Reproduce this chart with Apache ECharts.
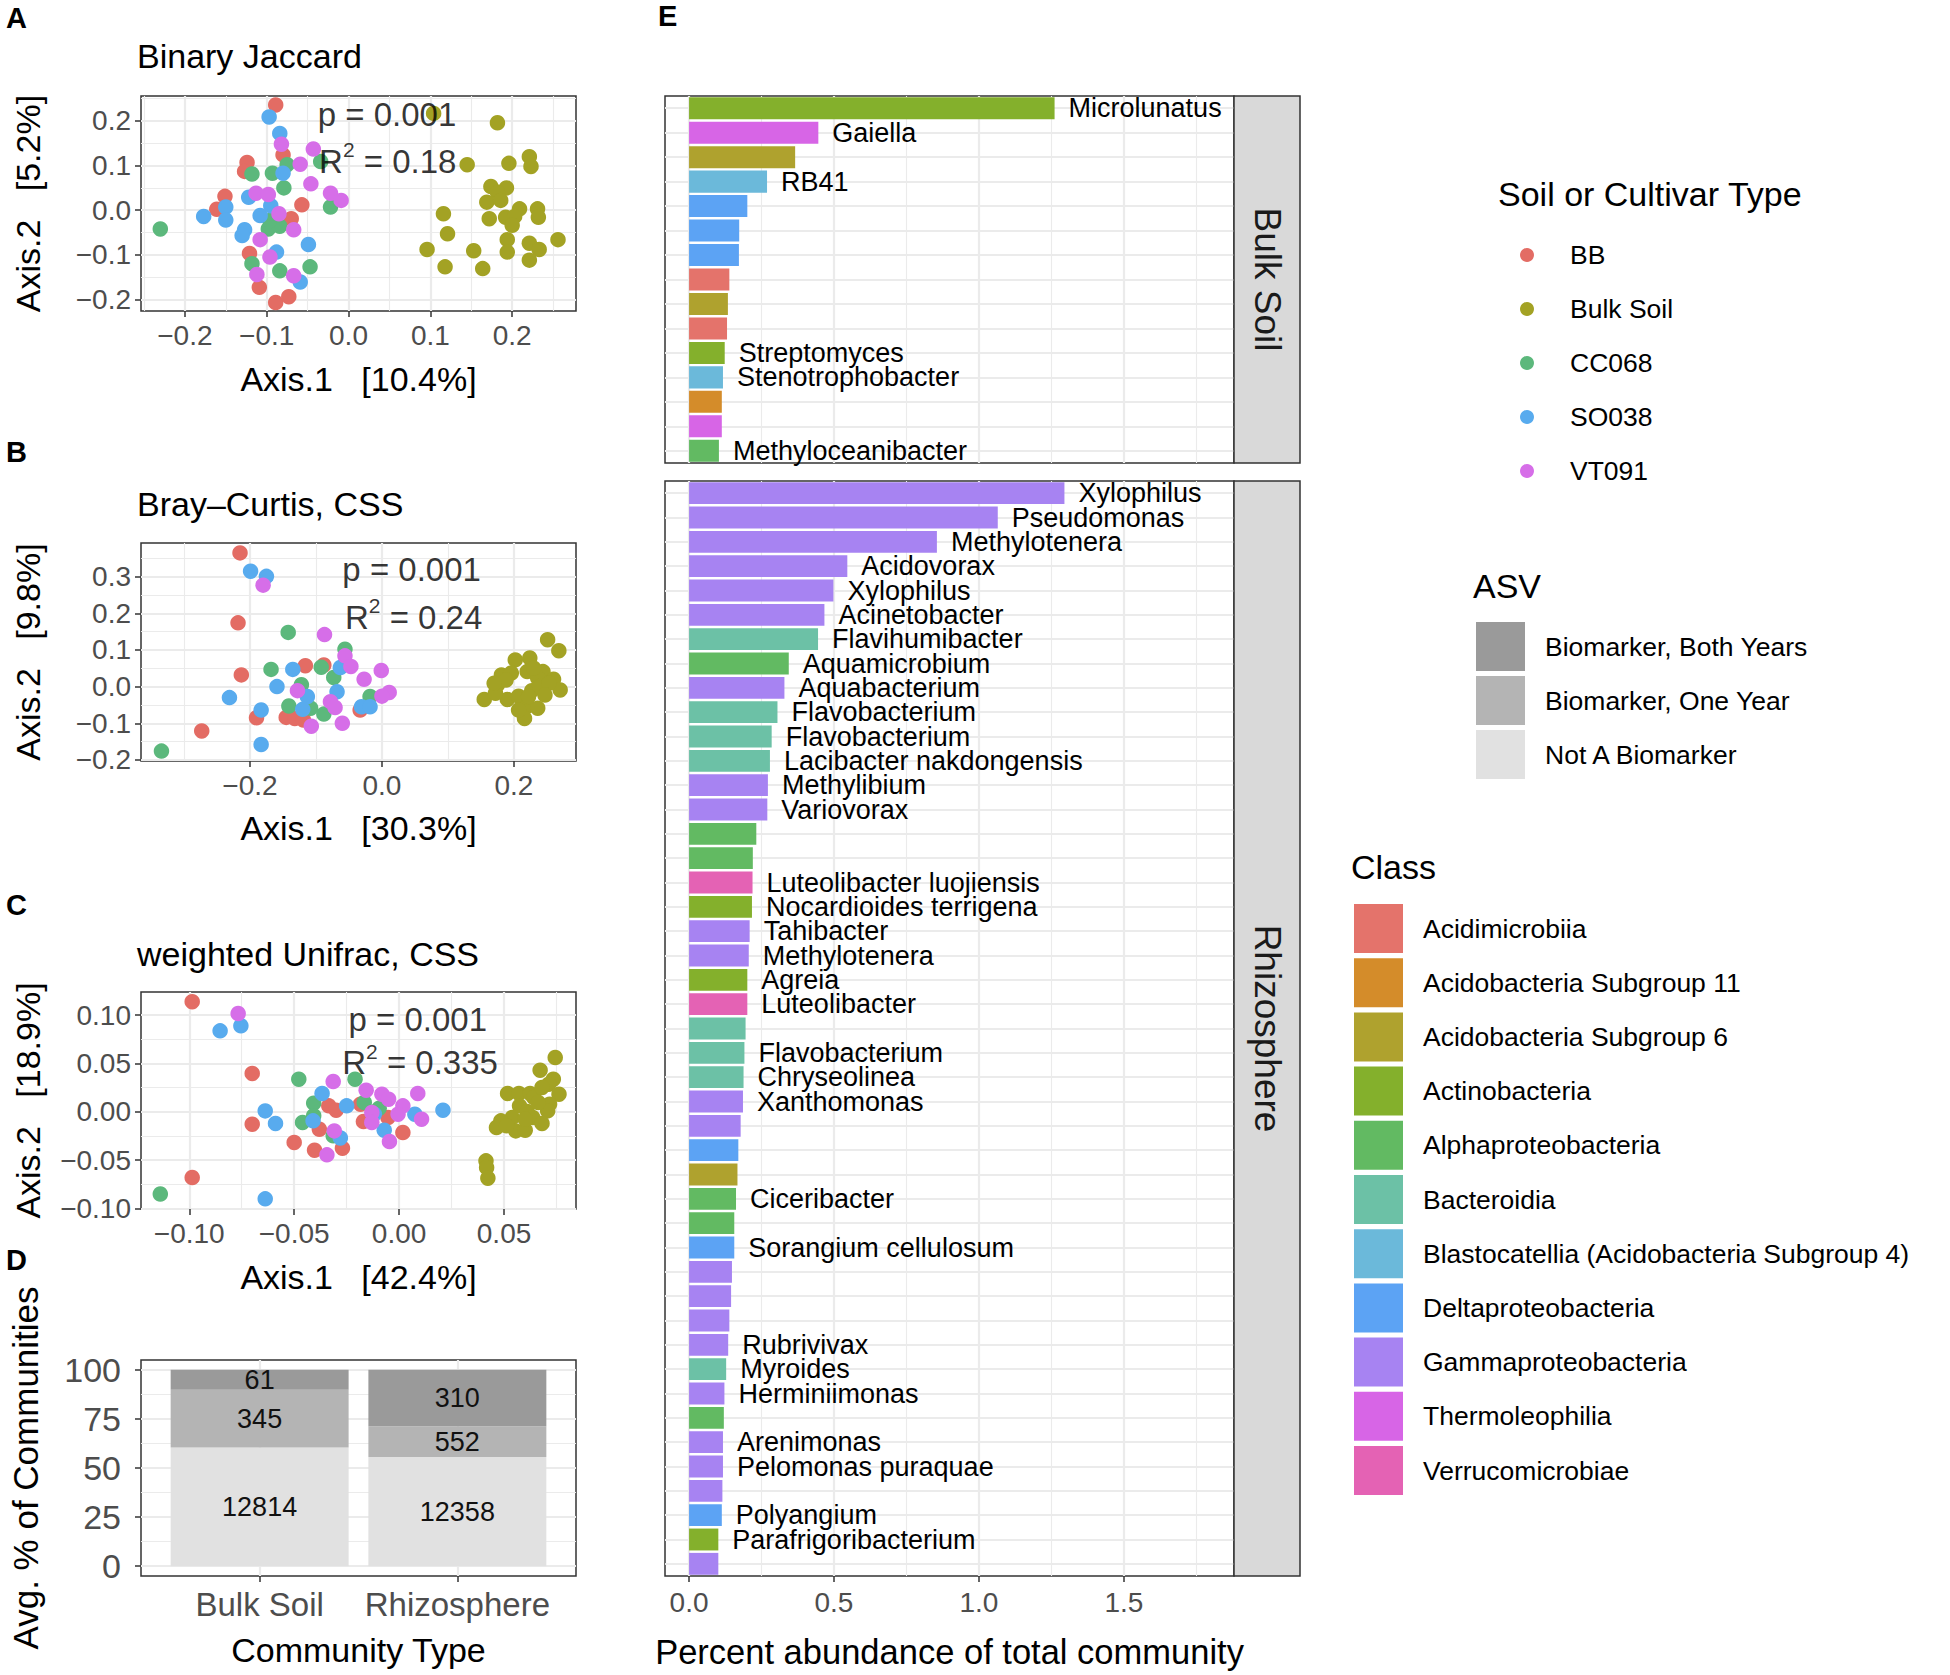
<!DOCTYPE html>
<html><head><meta charset="utf-8">
<script src="https://cdn.jsdelivr.net/npm/echarts@6/dist/echarts.min.js"></script>
<style>html,body{margin:0;padding:0;background:#fff}#main{width:1950px;height:1675px}</style>
</head><body><div id="main"></div>
<script>
// ================= DATA =================
const groupNames = ['BB', 'Bulk Soil', 'CC068', 'SO038', 'VT091'];

// Panel A: Binary Jaccard
const jaccardBB = [[-0.089,0.236],[-0.124,0.107],[-0.127,0.087],[-0.080,0.124],[-0.151,0.031],[-0.161,0.002],[-0.057,0.012],[-0.070,-0.019],[-0.121,-0.097],[-0.109,-0.173],[-0.089,-0.207],[-0.073,-0.194]];
const jaccardBulk = [[0.104,0.217],[0.182,0.196],[0.145,0.102],[0.196,0.105],[0.221,0.120],[0.223,0.098],[0.174,0.053],[0.193,0.050],[0.182,0.040],[0.169,0.018],[0.186,0.022],[0.209,0.003],[0.231,0.003],[0.116,-0.008],[0.172,-0.019],[0.192,-0.016],[0.203,-0.014],[0.200,-0.034],[0.232,-0.016],[0.121,-0.053],[0.256,-0.066],[0.194,-0.066],[0.221,-0.074],[0.233,-0.088],[0.096,-0.088],[0.153,-0.091],[0.194,-0.094],[0.221,-0.112],[0.118,-0.127],[0.164,-0.131]];
const jaccardCC068 = [[-0.230,-0.042],[-0.118,0.081],[-0.093,0.083],[-0.075,0.102],[-0.079,0.050],[-0.034,0.109],[-0.022,0.007],[-0.098,-0.042],[-0.084,-0.036],[-0.118,-0.120],[-0.084,-0.136],[-0.047,-0.127],[-0.096,-0.023]];
const jaccardSO038 = [[-0.097,0.209],[-0.084,0.172],[-0.080,0.083],[-0.122,0.029],[-0.150,0.007],[-0.177,-0.014],[-0.150,-0.022],[-0.108,-0.012],[-0.095,0.010],[-0.127,-0.044],[-0.130,-0.057],[-0.088,-0.094],[-0.049,-0.077],[-0.059,-0.161]];
const jaccardVT091 = [[-0.082,0.148],[-0.043,0.137],[-0.059,0.103],[-0.046,0.059],[-0.022,0.038],[-0.009,0.022],[-0.113,0.038],[-0.098,0.035],[-0.085,-0.008],[-0.067,-0.044],[-0.108,-0.066],[-0.096,-0.105],[-0.112,-0.144],[-0.067,-0.147]];
const jaccardXRange = [-0.2536, 0.278];
const jaccardYRange = [-0.226, 0.256];
const jaccardXTicks = [-0.2, -0.1, 0, 0.1, 0.2];
const jaccardYTicks = [-0.2, -0.1, 0, 0.1, 0.2];
const jaccardStats = ['p = 0.001', 'R{s|2} = 0.18'];
const jaccardStatPos = [[0.047, 0.215], [0.048, 0.11]];

// Panel B: Bray-Curtis, CSS
const brayBB = [[-0.215,0.365],[-0.218,0.174],[-0.213,0.032],[-0.273,-0.121],[-0.190,-0.085],[-0.145,-0.084],[-0.132,-0.087],[-0.116,0.057],[-0.088,0.059],[-0.119,-0.091],[-0.033,-0.064]];
const brayBulk = [[0.251,0.128],[0.268,0.098],[0.224,0.078],[0.202,0.073],[0.181,0.032],[0.175,0.005],[0.220,0.041],[0.244,0.041],[0.236,0.023],[0.260,0.020],[0.270,-0.009],[0.155,-0.035],[0.190,-0.035],[0.207,-0.026],[0.227,-0.011],[0.239,0.000],[0.219,-0.055],[0.236,-0.059],[0.216,-0.087],[0.172,-0.018],[0.196,0.037],[0.230,0.050],[0.222,-0.027],[0.253,0.009],[0.207,-0.064],[0.188,0.018],[0.247,-0.023],[0.170,0.009]];
const brayCC068 = [[-0.334,-0.176],[-0.142,0.148],[-0.168,0.047],[-0.122,0.005],[-0.092,0.053],[-0.056,0.102],[-0.073,0.025],[-0.141,-0.053],[-0.108,-0.059],[-0.088,-0.075],[-0.018,-0.027]];
const braySO038 = [[-0.199,0.315],[-0.175,0.301],[-0.231,-0.030],[-0.159,0.000],[-0.135,0.047],[-0.183,-0.064],[-0.183,-0.158],[-0.113,-0.027],[-0.120,-0.062],[-0.068,-0.014],[-0.063,0.052],[-0.031,-0.055],[-0.018,-0.055]];
const brayVT091 = [[-0.180,0.277],[-0.087,0.142],[-0.056,0.084],[-0.047,0.055],[-0.001,0.044],[-0.027,0.020],[0.011,-0.016],[0.000,-0.026],[-0.128,-0.011],[-0.078,-0.041],[-0.071,-0.057],[-0.060,-0.100],[-0.107,-0.108]];
const brayXRange = [-0.365, 0.294];
const brayYRange = [-0.203, 0.392];
const brayXTicks = [-0.2, 0, 0.2];
const brayYTicks = [-0.2, -0.1, 0, 0.1, 0.2, 0.3];
const brayStats = ['p = 0.001', 'R{s|2} = 0.24'];
const brayStatPos = [[0.045, 0.32], [0.048, 0.19]];

// Panel C: weighted Unifrac, CSS
const unifracBB = [[-0.0986,0.114],[-0.070,0.0397],[-0.070,-0.0128],[-0.0986,-0.068],[-0.050,-0.0317],[-0.0403,-0.0397],[-0.038,-0.018],[-0.0335,0.0062],[-0.030,0.0017],[-0.027,-0.0376],[-0.0184,0.0079],[-0.017,-0.010],[-0.0053,-0.0059],[0.0018,-0.0214]];
const unifracBulk = [[0.0744,0.0562],[0.0672,0.0431],[0.0735,0.0338],[0.0713,0.0286],[0.0762,0.0183],[0.0517,0.019],[0.0571,0.019],[0.0624,0.019],[0.0642,0.0148],[0.0574,0.0062],[0.0717,0.0079],[0.0708,0.001],[0.061,0.0003],[0.0539,-0.0059],[0.0485,-0.0093],[0.0637,-0.0059],[0.0681,-0.012],[0.0556,-0.0197],[0.0601,-0.019],[0.0464,-0.0162],[0.0414,-0.0507],[0.0417,-0.0576],[0.0423,-0.0686],[0.0663,0.0097],[0.0601,-0.0076],[0.0512,-0.0145],[0.0681,0.0252]];
const unifracCC068 = [[-0.1138,-0.085],[-0.0478,0.0338],[-0.021,0.0338],[-0.0407,0.009],[-0.046,-0.011],[-0.0407,-0.004],[-0.0166,0.0097],[-0.0095,0.0038],[-0.0314,-0.0248]];
const unifracSO038 = [[-0.0853,0.0838],[-0.0754,0.089],[-0.0638,0.001],[-0.0589,-0.012],[-0.0638,-0.090],[-0.0367,0.019],[-0.041,-0.0093],[-0.025,0.0062],[-0.028,-0.027],[-0.0071,-0.019],[0.0075,-0.0024],[0.0209,0.0017],[-0.0118,-0.0024]];
const unifracVT091 = [[-0.0767,0.1017],[-0.0314,0.0314],[-0.0157,0.0224],[-0.0082,0.0183],[-0.005,0.0131],[0.0089,0.019],[0.0018,0.0062],[-0.0005,-0.0024],[0.0107,-0.0076],[-0.013,-0.0007],[-0.013,-0.011],[-0.0309,-0.0197],[-0.0046,-0.0307],[-0.0344,-0.0445]];
const unifracXRange = [-0.123, 0.0843];
const unifracYRange = [-0.1005, 0.124];
const unifracXTicks = [-0.1, -0.05, 0, 0.05];
const unifracYTicks = [-0.1, -0.05, 0, 0.05, 0.1];
const unifracStats = ['p = 0.001', 'R{s|2} = 0.335'];
const unifracStatPos = [[0.0089, 0.0959], [0.0100, 0.051]];

// Panel D: stacked percentage bars
const communityTypes = ['Bulk Soil', 'Rhizosphere'];
const asvNames = ['Biomarker, Both Years', 'Biomarker, One Year', 'Not A Biomarker'];
const notBiomarkerPct = [60.4, 55.6];
const oneYearPct = [29.5, 15.6];
const bothYearsPct = [10.1, 28.8];
const notBiomarkerCount = [12814, 12358];
const oneYearCount = [345, 552];
const bothYearsCount = [61, 310];
const percentRange = [-5, 105];
const percentTicks = [0, 25, 50, 75, 100];

// Panel E: percent abundance of biomarker ASVs
const classNames = ['Acidimicrobiia', 'Acidobacteria Subgroup 11', 'Acidobacteria Subgroup 6', 'Actinobacteria', 'Alphaproteobacteria', 'Bacteroidia', 'Blastocatellia (Acidobacteria Subgroup 4)', 'Deltaproteobacteria', 'Gammaproteobacteria', 'Thermoleophilia', 'Verrucomicrobiae'];

const bulkValues = [1.261, 0.446, 0.366, 0.269, 0.201, 0.173, 0.172, 0.139, 0.134, 0.131, 0.123, 0.117, 0.113, 0.113, 0.103];
const bulkClasses = ['Actinobacteria', 'Thermoleophilia', 'Acidobacteria Subgroup 6', 'Blastocatellia (Acidobacteria Subgroup 4)', 'Deltaproteobacteria', 'Deltaproteobacteria', 'Deltaproteobacteria', 'Acidimicrobiia', 'Acidobacteria Subgroup 6', 'Acidimicrobiia', 'Actinobacteria', 'Blastocatellia (Acidobacteria Subgroup 4)', 'Acidobacteria Subgroup 11', 'Thermoleophilia', 'Alphaproteobacteria'];
const bulkLabels = ['Microlunatus', 'Gaiella', '', 'RB41', '', '', '', '', '', '', 'Streptomyces', 'Stenotrophobacter', '', '', 'Methyloceanibacter'];

const rhizoValues = [1.295, 1.065, 0.855, 0.546, 0.498, 0.467, 0.445, 0.344, 0.329, 0.305, 0.285, 0.279, 0.272, 0.270, 0.232, 0.220, 0.219, 0.217, 0.209, 0.206, 0.201, 0.201, 0.195, 0.191, 0.188, 0.186, 0.178, 0.170, 0.167, 0.162, 0.156, 0.156, 0.148, 0.145, 0.139, 0.135, 0.128, 0.122, 0.120, 0.117, 0.117, 0.115, 0.113, 0.101, 0.101];
const rhizoClasses = ['Gammaproteobacteria', 'Gammaproteobacteria', 'Gammaproteobacteria', 'Gammaproteobacteria', 'Gammaproteobacteria', 'Gammaproteobacteria', 'Bacteroidia', 'Alphaproteobacteria', 'Gammaproteobacteria', 'Bacteroidia', 'Bacteroidia', 'Bacteroidia', 'Gammaproteobacteria', 'Gammaproteobacteria', 'Alphaproteobacteria', 'Alphaproteobacteria', 'Verrucomicrobiae', 'Actinobacteria', 'Gammaproteobacteria', 'Gammaproteobacteria', 'Actinobacteria', 'Verrucomicrobiae', 'Bacteroidia', 'Bacteroidia', 'Bacteroidia', 'Gammaproteobacteria', 'Gammaproteobacteria', 'Deltaproteobacteria', 'Acidobacteria Subgroup 6', 'Alphaproteobacteria', 'Alphaproteobacteria', 'Deltaproteobacteria', 'Gammaproteobacteria', 'Gammaproteobacteria', 'Gammaproteobacteria', 'Gammaproteobacteria', 'Bacteroidia', 'Gammaproteobacteria', 'Alphaproteobacteria', 'Gammaproteobacteria', 'Gammaproteobacteria', 'Gammaproteobacteria', 'Deltaproteobacteria', 'Actinobacteria', 'Gammaproteobacteria'];
const rhizoLabels = ['Xylophilus', 'Pseudomonas', 'Methylotenera', 'Acidovorax', 'Xylophilus', 'Acinetobacter', 'Flavihumibacter', 'Aquamicrobium', 'Aquabacterium', 'Flavobacterium', 'Flavobacterium', 'Lacibacter nakdongensis', 'Methylibium', 'Variovorax', '', '', 'Luteolibacter luojiensis', 'Nocardioides terrigena', 'Tahibacter', 'Methylotenera', 'Agreia', 'Luteolibacter', '', 'Flavobacterium', 'Chryseolinea', 'Xanthomonas', '', '', '', 'Ciceribacter', '', 'Sorangium cellulosum', '', '', '', 'Rubrivivax', 'Myroides', 'Herminiimonas', '', 'Arenimonas', 'Pelomonas puraquae', '', 'Polyangium', 'Parafrigoribacterium', ''];
const abundanceRange = [-0.083, 1.88];
const abundanceTicks = [0, 0.5, 1, 1.5];
const facetNames = ['Bulk Soil', 'Rhizosphere'];

// ================= STYLE =================
const FONT = 'Liberation Sans, Arial, Helvetica, sans-serif';
const groupColors = ['#E36C64', '#A3A224', '#5CB87C', '#58ABEE', '#D66EE8'];
const asvColors = ['#9a9a9a', '#b4b4b4', '#e1e1e1'];
const classColors = ['#E4736B', '#D48C2A', '#AFA22E', '#84B02C', '#62BA62', '#6CC1A6', '#6BB9DA', '#5CA3F4', '#A783F2', '#D765E6', '#E462B4'];
const GRID_MAJOR = {color: '#ebebeb', width: 2.2};
const GRID_MINOR = {color: '#ebebeb', width: 1.1};
const TICK = {color: '#333333', width: 1.5};

// layout (pixels)
const L = {
  leftX: 141, leftW: 435,
  A: {top: 96, h: 215}, B: {top: 543, h: 218}, C: {top: 992, h: 217}, D: {top: 1360, h: 216},
  E: {left: 665, w: 569, stripW: 66, top1: 96, h1: 367, top2: 481, h2: 1095}
};

const fmt = (v, d) => (v < -1e-9 ? '\u2212' : '') + Math.abs(v).toFixed(d);
function minorOf(ticks, range) {
  const step = ticks[1] - ticks[0];
  const out = [];
  for (let v = ticks[0] - step / 2; v <= range[1] + 1e-9; v += step) {
    if (v >= range[0] - 1e-9) out.push(+v.toFixed(6));
  }
  return out;
}

const grids = [], xAxes = [], yAxes = [], series = [], graphics = [];

function frameGrid(left, top, width, height, show) {
  grids.push({left, top, width, height, show: show !== false, borderColor: '#333333', borderWidth: 1.5, backgroundColor: show === false ? 'transparent' : '#ffffff'});
  return grids.length - 1;
}

function valueAxis(gridIndex, range, ticks, dec, opts) {
  const o = Object.assign({labels: true, ticksShown: true, name: '', nameGap: 50, fontSize: 28, margin: 10, position: 'bottom', labelFormatter: null, nameSize: 34}, opts || {});
  return {
    type: 'value', gridIndex, min: range[0], max: range[1], position: o.position,
    axisLine: {show: false, onZero: false},
    axisTick: {show: o.ticksShown, customValues: ticks, length: 6, lineStyle: TICK},
    axisLabel: {show: o.labels, customValues: ticks, color: '#4d4d4d', fontSize: o.fontSize, fontFamily: FONT, margin: o.margin,
      formatter: o.labelFormatter || (v => fmt(v, dec))},
    splitLine: {show: true, lineStyle: GRID_MAJOR},
    name: o.name, nameLocation: 'middle', nameGap: o.nameGap,
    nameTextStyle: {fontSize: o.nameSize, color: '#000', fontFamily: FONT}
  };
}
function minorAxis(gridIndex, range, minors, position) {
  return {
    type: 'value', gridIndex, min: range[0], max: range[1], position,
    axisLine: {show: false, onZero: false},
    axisTick: {show: false, customValues: minors},
    axisLabel: {show: false},
    splitLine: {show: true, lineStyle: GRID_MINOR}
  };
}

function scatterPanel(box, groups, xRange, yRange, xTicks, yTicks, dec, xName, yName, xNameGap, stats, statPos) {
  const gi = frameGrid(L.leftX, box.top, L.leftW, box.h);
  const xi = xAxes.length, yi = yAxes.length;
  xAxes.push(valueAxis(gi, xRange, xTicks, dec, {name: xName, nameGap: xNameGap}));
  xAxes.push(minorAxis(gi, xRange, minorOf(xTicks, xRange), 'top'));
  yAxes.push(valueAxis(gi, yRange, yTicks, dec, {name: yName, nameGap: 96, position: 'left'}));
  yAxes.push(minorAxis(gi, yRange, minorOf(yTicks, yRange), 'right'));
  groups.forEach((data, g) => {
    series.push({type: 'scatter', name: groupNames[g], xAxisIndex: xi, yAxisIndex: yi, data,
      symbol: 'circle', symbolSize: 15.5, itemStyle: {color: groupColors[g], opacity: 1}, z: 3,
      emphasis: {disabled: true}, silent: true});
  });
  series.push({type: 'scatter', name: 'stats', xAxisIndex: xi, yAxisIndex: yi, z: 5, silent: true,
    symbolSize: 1, itemStyle: {color: 'rgba(0,0,0,0)'},
    data: statPos.map((p, i) => ({value: p, label: {formatter: stats[i]}})),
    label: {show: true, position: 'inside', fontSize: 33, lineHeight: 44, color: '#000', fontFamily: FONT,
      rich: {s: {fontSize: 21, lineHeight: 22, verticalAlign: 'top', fontFamily: FONT, color: '#000'}}}});
}

scatterPanel(L.A, [jaccardBB, jaccardBulk, jaccardCC068, jaccardSO038, jaccardVT091], jaccardXRange, jaccardYRange, jaccardXTicks, jaccardYTicks, 1,
  'Axis.1   [10.4%]', 'Axis.2   [5.2%]', 51, jaccardStats, jaccardStatPos);
scatterPanel(L.B, [brayBB, brayBulk, brayCC068, braySO038, brayVT091], brayXRange, brayYRange, brayXTicks, brayYTicks, 1,
  'Axis.1   [30.3%]', 'Axis.2   [9.8%]', 50, brayStats, brayStatPos);
scatterPanel(L.C, [unifracBB, unifracBulk, unifracCC068, unifracSO038, unifracVT091], unifracXRange, unifracYRange, unifracXTicks, unifracYTicks, 2,
  'Axis.1   [42.4%]', 'Axis.2   [18.9%]', 51, unifracStats, unifracStatPos);

// ---- Panel D ----
(function () {
  const gi = frameGrid(L.leftX, L.D.top, L.leftW, L.D.h);
  const catRange = [0.4, communityTypes.length + 0.6];
  const catPos = communityTypes.map((_, i) => i + 1);
  xAxes.push(valueAxis(gi, catRange, catPos, 0, {name: 'Community Type', nameGap: 57, fontSize: 33, margin: 12,
    labelFormatter: v => communityTypes[Math.round(v) - 1]}));
  yAxes.push(valueAxis(gi, percentRange, percentTicks, 0, {name: 'Avg. % of Communities', nameGap: 98, fontSize: 34, margin: 20, position: 'left', nameSize: 35}));
  yAxes.push(minorAxis(gi, percentRange, minorOf(percentTicks, percentRange), 'right'));
  const pad = L.leftW * 0.1 / (communityTypes.length + 0.2);
  const gi2 = frameGrid(L.leftX + pad, L.D.top, L.leftW - 2 * pad, L.D.h, false);
  const xi2 = xAxes.length;
  xAxes.push({type: 'category', gridIndex: gi2, data: communityTypes, show: false});
  const yi2 = yAxes.length;
  yAxes.push({type: 'value', gridIndex: gi2, min: percentRange[0], max: percentRange[1], show: false, splitLine: {show: false}});
  const stackDefs = [
    [asvNames[2], notBiomarkerPct, notBiomarkerCount, asvColors[2]],
    [asvNames[1], oneYearPct, oneYearCount, asvColors[1]],
    [asvNames[0], bothYearsPct, bothYearsCount, asvColors[0]]
  ];
  stackDefs.forEach(([name, pct, cnt, color]) => {
    series.push({type: 'bar', name, stack: 'asv', xAxisIndex: xi2, yAxisIndex: yi2, data: pct, barWidth: '90%',
      itemStyle: {color}, silent: true,
      label: {show: true, position: 'inside', fontSize: 27, color: '#111', fontFamily: FONT, formatter: p => String(cnt[p.dataIndex])}});
  });
})();

// ---- Panel E ----
function abundanceFacet(top, h, values, classes, labels, bottom, facetName) {
  const gi = frameGrid(L.E.left, top, L.E.w, h);
  const xi = xAxes.length;
  xAxes.push(valueAxis(gi, abundanceRange, abundanceTicks, 1, bottom ?
    {name: 'Percent abundance of total community', nameGap: 58, fontSize: 28, margin: 12, nameSize: 34.5} :
    {labels: false, ticksShown: false}));
  xAxes.push(minorAxis(gi, abundanceRange, minorOf(abundanceTicks, abundanceRange), 'top'));
  const yi = yAxes.length;
  yAxes.push({type: 'category', gridIndex: gi, inverse: true, data: values.map((_, i) => String(i + 1)),
    axisLine: {show: false}, axisTick: {show: false}, axisLabel: {show: false},
    splitLine: {show: true, alignWithLabel: true, interval: 0, lineStyle: GRID_MAJOR}});
  classNames.forEach((c, ci) => {
    if (classes.indexOf(c) < 0) return;
    series.push({type: 'bar', name: c, xAxisIndex: xi, yAxisIndex: yi, silent: true,
      data: values.map((v, i) => classes[i] === c ? v : '-'),
      barGap: '-100%', barCategoryGap: '10%', itemStyle: {color: classColors[ci]},
      label: {show: true, position: 'right', distance: 14, fontSize: 27, lineHeight: 24, color: '#000', fontFamily: FONT,
        formatter: p => labels[p.dataIndex]}});
  });
  // facet strip
  graphics.push({type: 'rect', shape: {x: L.E.left + L.E.w, y: top, width: L.E.stripW, height: h},
    style: {fill: '#d9d9d9', stroke: '#333333', lineWidth: 1.5}, z: 10});
  graphics.push({type: 'text', x: L.E.left + L.E.w + L.E.stripW / 2, y: top + h / 2, rotation: -Math.PI / 2, z: 11,
    style: {text: facetName, fontSize: 37, fontFamily: FONT, fill: '#1a1a1a', align: 'center', verticalAlign: 'middle'}});
}
abundanceFacet(L.E.top1, L.E.h1, bulkValues, bulkClasses, bulkLabels, false, facetNames[0]);
abundanceFacet(L.E.top2, L.E.h2, rhizoValues, rhizoClasses, rhizoLabels, true, facetNames[1]);

// ---- titles, letters, legend titles ----
function txt(text, x, y, size, weight, align) {
  graphics.push({type: 'text', x, y, z: 12, style: {text, fontSize: size, fontWeight: weight || 'normal', fontFamily: FONT,
    fill: '#000', align: align || 'left', verticalAlign: 'middle'}});
}
txt('A', 6, 18, 29, 'bold'); txt('B', 6, 452, 29, 'bold'); txt('C', 6, 905, 29, 'bold'); txt('D', 6, 1260, 29, 'bold'); txt('E', 658, 16, 29, 'bold');
txt('Binary Jaccard', 137, 56, 34); txt('Bray\u2013Curtis, CSS', 137, 504, 34); txt('weighted Unifrac, CSS', 137, 954, 34);
txt('Soil or Cultivar Type', 1498, 194, 34); txt('ASV', 1473, 586, 34); txt('Class', 1351, 867, 34);

const chart = echarts.init(document.getElementById('main'), null, {renderer: 'svg'});
chart.setOption({
  animation: false,
  backgroundColor: '#ffffff',
  textStyle: {fontFamily: FONT},
  grid: grids, xAxis: xAxes, yAxis: yAxes, series,
  legend: [
    {data: groupNames, orient: 'vertical', left: 1515, top: 235, itemWidth: 14, itemHeight: 14, itemGap: 24, icon: 'circle',
      selectedMode: false, textStyle: {fontSize: 26.5, lineHeight: 30, color: '#000', fontFamily: FONT, padding: [0, 0, 0, 31]}},
    {data: asvNames, orient: 'vertical', left: 1471, top: 617, itemWidth: 49, itemHeight: 49, itemGap: 5, icon: 'rect',
      selectedMode: false, textStyle: {fontSize: 26.5, color: '#000', fontFamily: FONT, padding: [0, 0, 0, 15]}},
    {data: classNames, orient: 'vertical', left: 1349, top: 899, itemWidth: 49, itemHeight: 49, itemGap: 5.2, icon: 'rect',
      selectedMode: false, textStyle: {fontSize: 26.5, color: '#000', fontFamily: FONT, padding: [0, 0, 0, 15]}}
  ],
  graphic: graphics
});
</script>
</body></html>
